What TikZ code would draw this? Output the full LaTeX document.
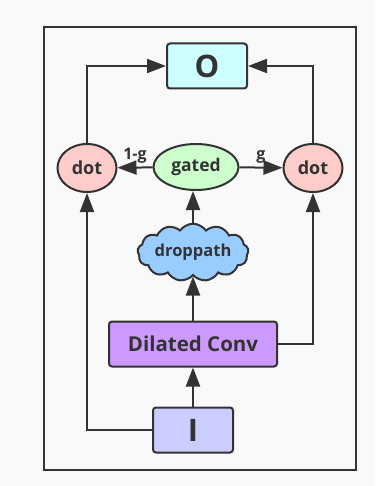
\documentclass[tikz,border=0pt]{standalone}
\usepackage{fontspec}
\setsansfont{Open Sans}
\usepackage{tikz}
\usetikzlibrary{arrows.meta, positioning, shapes.geometric, shapes.symbols}

\definecolor{ink}{HTML}{333333}
\definecolor{paper}{HTML}{F9F9F9}
\definecolor{outfill}{HTML}{CCFFFF}
\definecolor{infill}{HTML}{CCCCFF}
\definecolor{convfill}{HTML}{CC99FF}
\definecolor{dropfill}{HTML}{99CCFF}
\definecolor{gatefill}{HTML}{CCFFCC}
\definecolor{dotfill}{HTML}{FFCCCC}

\begin{document}
\begin{tikzpicture}[
  x=1pt, y=-1pt,
  every node/.style={text=ink, font=\sffamily\bfseries},
  iobox/.style={draw=ink, line width=2pt, rounded corners=3pt, minimum width=80pt, minimum height=45pt, font=\sffamily\bfseries\fontsize{31}{31}\selectfont},
  convbox/.style={draw=ink, line width=2pt, rounded corners=3pt, fill=convfill, minimum width=168pt, minimum height=45pt, font=\sffamily\bfseries\fontsize{20.5}{20.5}\selectfont},
  dotnode/.style={draw=ink, line width=2pt, ellipse, fill=dotfill, minimum width=59pt, minimum height=48pt, inner sep=0pt, font=\sffamily\bfseries\fontsize{18}{18}\selectfont},
  gatenode/.style={draw=ink, line width=2pt, ellipse, fill=gatefill, minimum width=85pt, minimum height=46pt, inner sep=0pt, font=\sffamily\bfseries\fontsize{17.5}{17.5}\selectfont},
  dropnode/.style={draw=ink, line width=2pt, cloud, cloud puffs=13, cloud puff arc=110, aspect=2.4, fill=dropfill, minimum width=109pt, minimum height=45pt, inner sep=0pt, font=\sffamily\bfseries\fontsize{16.5}{16.5}\selectfont},
  arr/.style={-{Triangle[length=19pt, width=14pt]}, draw=ink, line width=2pt},
  lbl/.style={font=\sffamily\bfseries\fontsize{16}{16}\selectfont, inner sep=3pt}
]
\useasboundingbox[fill=paper] (0,0) rectangle (375,486);
\draw[ink, line width=2.2pt] (44,27) rectangle (356,470);

% main column
\node[iobox, fill=infill] (in) at (193,430) {I};
\node[convbox, above=39pt of in] (conv) {Dilated Conv};
\node[dropnode, above=44pt of conv] (drop) {droppath};
\node[gatenode] (gate) at (196,167) {gated};
\node[iobox, fill=outfill] (out) at (207,66) {O};

% gates on both sides
\node[dotnode] (dotl) at (87,168) {dot};
\node[dotnode] (dotr) at (313,168) {dot};

\draw[arr] (in) -- (conv);
\draw[arr] (conv) -- (drop);
\draw[arr] (drop.north) -- (drop.north |- gate.south);
\draw[arr] (gate) -- node[lbl, above] {1-g} (dotl);
\draw[arr] (gate) -- node[lbl, above] {g} (dotr);
\draw[arr] (in.west) -| (dotl);
\draw[arr] (conv.east) -| (dotr);
\draw[arr] (dotl) |- (out);
\draw[arr] (dotr) |- (out);

\end{tikzpicture}
\end{document}
